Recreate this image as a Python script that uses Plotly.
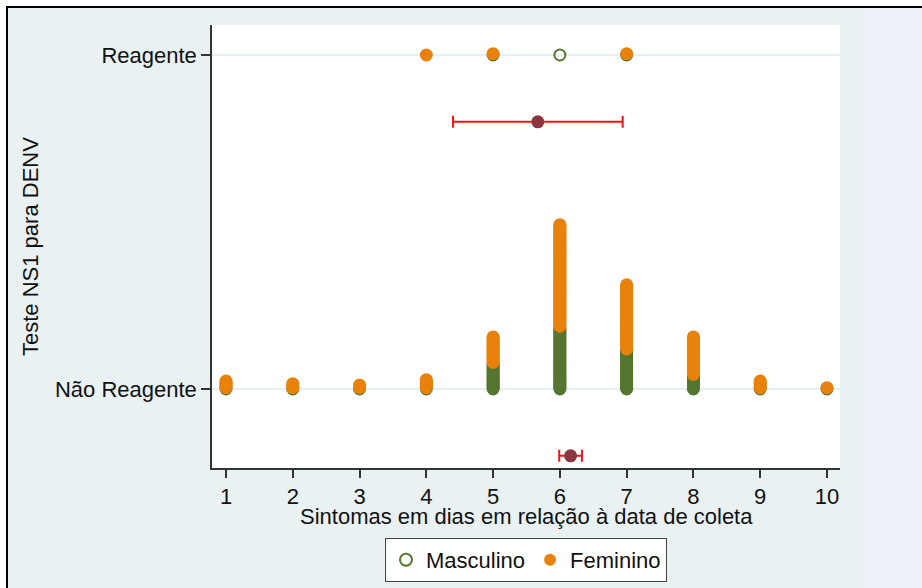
import plotly.graph_objects as go

# ---- data ----
days = [1, 2, 3, 4, 5, 6, 7, 8, 9, 10]
# Não Reagente (stacked dots): counts per day
nr_masc = [1, 1, 1, 1, 20, 47, 30, 11, 1, 1]
nr_fem = [6, 4, 3, 7, 20, 77, 49, 29, 6, 1]
# Reagente: counts per day
r_masc = [0, 0, 0, 0, 1, 1, 1, 0, 0, 0]
r_fem = [0, 0, 0, 1, 1, 0, 1, 0, 0, 0]

group_labels = ["Não Reagente", "Reagente"]
group_pos = [0, 1]

# mean and 95% CI of days per group
ci_mean = [6.16, 5.67]
ci_low = [5.99, 4.40]
ci_high = [6.33, 6.94]
ci_pos = [-0.2, 0.8]

STEP = 0.004  # vertical stacking offset per dot


def stack(masc, fem, base):
    mx, my, fx, fy = [], [], [], []
    for d, m, f in zip(days, masc, fem):
        for i in range(m):
            mx.append(d)
            my.append(base + i * STEP)
        for j in range(f):
            fx.append(d)
            fy.append(base + (m + j) * STEP)
    return mx, my, fx, fy


GREEN = "#55762F"
ORANGE = "#E8820C"

mx0, my0, fx0, fy0 = stack(nr_masc, nr_fem, group_pos[0])
mx1, my1, fx1, fy1 = stack(r_masc, r_fem, group_pos[1])

fig = go.Figure()
fig.add_trace(go.Scatter(
    x=mx0 + mx1, y=my0 + my1, mode="markers", name="Masculino",
    marker=dict(symbol="circle-open", size=11, color=GREEN,
                line=dict(color=GREEN, width=2)),
    cliponaxis=False,
))
fig.add_trace(go.Scatter(
    x=fx0 + fx1, y=fy0 + fy1, mode="markers", name="Feminino",
    marker=dict(symbol="circle", size=13, color=ORANGE, line=dict(width=0)),
    cliponaxis=False,
))
fig.add_trace(go.Scatter(
    x=ci_mean, y=ci_pos, mode="markers", showlegend=False,
    marker=dict(symbol="circle", size=13, color="#8B3541", line=dict(width=0)),
    error_x=dict(type="data", symmetric=False,
                 array=[h - m for h, m in zip(ci_high, ci_mean)],
                 arrayminus=[m - l for m, l in zip(ci_mean, ci_low)],
                 color="#FF1010", thickness=2, width=6),
))

W, H = 922, 588
L, R, T, B = 212, 840, 25, 468
pw, ph = R - L, B - T


def px(xp):
    return (xp - L) / pw


def py(yp):
    return (B - yp) / ph


shapes = [
    dict(type="rect", xref="paper", yref="paper", x0=px(8), x1=px(W + 5),
         y0=py(8), y1=py(H + 5), fillcolor="#EDF1F9", line=dict(width=0), layer="below"),
    dict(type="rect", xref="paper", yref="paper", x0=px(8), x1=px(863),
         y0=py(8), y1=py(H + 5), fillcolor="#E9F1F3", line=dict(width=0), layer="below"),
    dict(type="rect", xref="paper", yref="paper", x0=0, x1=1, y0=0, y1=1,
         fillcolor="white", line=dict(width=0), layer="below"),
    dict(type="rect", xref="paper", yref="paper", x0=px(6), x1=px(W + 5),
         y0=py(8), y1=py(6), fillcolor="black", line=dict(width=0), layer="below"),
    dict(type="rect", xref="paper", yref="paper", x0=px(6), x1=px(8),
         y0=py(H + 5), y1=py(6), fillcolor="black", line=dict(width=0), layer="below"),
]

FONT = "Liberation Sans, Arial, sans-serif"
FS = 22

fig.update_layout(
    width=W, height=H,
    margin=dict(l=L, r=W - R, t=T, b=H - B, pad=0, autoexpand=False),
    paper_bgcolor="white", plot_bgcolor="white",
    font=dict(family=FONT, size=FS, color="#111111"),
    shapes=shapes,
    showlegend=True,
    legend=dict(orientation="h", x=0.5, xanchor="center", y=py(538), yanchor="top",
                bgcolor="white", bordercolor="#444444", borderwidth=1,
                font=dict(family=FONT, size=FS, color="#111111"),
                itemsizing="constant", tracegroupgap=0),
    annotations=[
        dict(text="Sintomas em dias em relação à data de coleta", xref="paper", yref="paper",
             x=px(526), y=py(516), xanchor="center", yanchor="middle", showarrow=False,
             font=dict(family=FONT, size=FS, color="#111111")),
        dict(text="Teste NS1 para DENV", xref="paper", yref="paper",
             x=px(30), y=py(247), xanchor="center", yanchor="middle", showarrow=False,
             textangle=-90, font=dict(family=FONT, size=FS, color="#111111")),
    ],
)

fig.update_xaxes(
    range=[0.79, 10.195], tickmode="array", tickvals=days, ticktext=[str(d) for d in days],
    showgrid=False, zeroline=False, showline=True, linecolor="#333333", linewidth=1.5,
    ticks="outside", ticklen=8, tickwidth=1.5, tickcolor="#333333",
    tickfont=dict(family=FONT, size=FS, color="#111111"), automargin=False,
)
fig.update_yaxes(
    range=[-0.2365, 1.0898], tickmode="array", tickvals=group_pos, ticktext=group_labels,
    showgrid=True, gridcolor="#E6F0F2", gridwidth=1.5, zeroline=False,
    showline=True, linecolor="#333333", linewidth=1.5,
    ticks="outside", ticklen=9, tickwidth=1.5, tickcolor="#333333",
    tickfont=dict(family=FONT, size=FS, color="#111111"), automargin=False,
)

fig.write_html("out.html")
